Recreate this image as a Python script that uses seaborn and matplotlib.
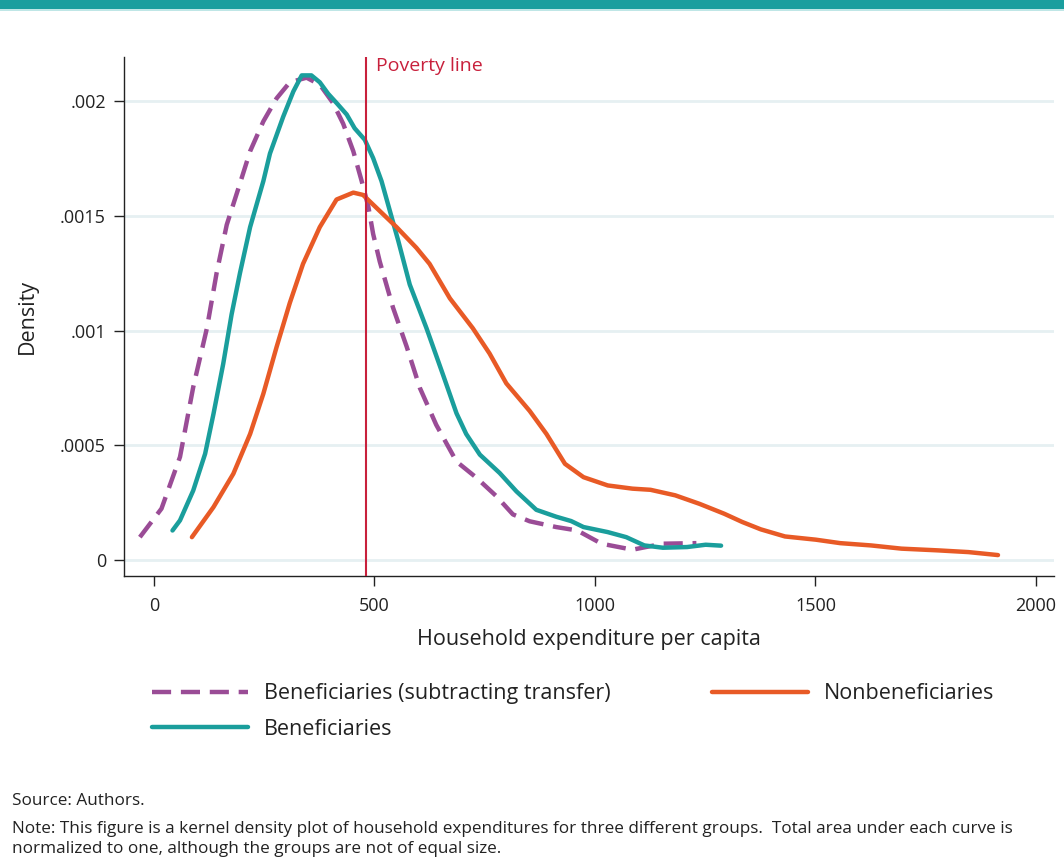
import matplotlib
matplotlib.use("Agg")
import matplotlib.pyplot as plt
import seaborn as sns
import pandas as pd
from matplotlib.patches import Rectangle

# ---- data ----
sub_x = [-32, 17, 59, 89, 120, 142, 165, 195, 218, 248, 278, 308, 346, 376, 406, 429, 452, 471,
         486, 497, 512, 542, 573, 603, 640, 686, 731, 776, 814, 852, 912, 960, 1015, 1085, 1154, 1230]
sub_y = [0.000101, 0.000225, 0.00045, 0.000754, 0.00101, 0.00125, 0.00146, 0.00164, 0.00178,
         0.00191, 0.00201, 0.00208, 0.0021, 0.00207, 0.00199, 0.0019, 0.00178, 0.00165,
         0.00154, 0.00142, 0.0013, 0.0011, 0.00093, 0.00075, 0.00059, 0.00043, 0.00036,
         0.00028, 0.0002, 0.00017, 0.000145, 0.00013, 0.0000725, 0.0000464, 0.0000725, 0.000075]

ben_x = [42, 59, 89, 116, 135, 157, 176, 195, 218, 233, 248, 263, 293, 316, 335, 357, 376, 395,
         414, 437, 455, 478, 497, 516, 535, 554, 580, 618, 655, 686, 708, 739, 784, 822, 867,
         912, 946, 974, 1029, 1071, 1112, 1154, 1209, 1251, 1286]
ben_y = [0.00013, 0.000174, 0.000304, 0.000464, 0.000638, 0.000855, 0.00107, 0.00125, 0.00145,
         0.00155, 0.00165, 0.00177, 0.00193, 0.00204, 0.00211, 0.00211, 0.00208, 0.00203,
         0.00199, 0.00194, 0.00188, 0.00183, 0.00175, 0.00165, 0.00152, 0.00139, 0.0012,
         0.00101, 0.00081, 0.00064, 0.00055, 0.00046, 0.00038, 0.0003, 0.00022,
         0.00019, 0.000171, 0.000145, 0.000123, 0.000101, 0.000065, 0.000055, 0.000058,
         0.000068, 0.000064]

non_x = [86, 135, 180, 218, 248, 278, 308, 338, 376, 414, 452, 474, 512, 550, 595, 625, 671, 723,
         761, 799, 852, 890, 932, 974, 1029, 1085, 1126, 1182, 1237, 1293, 1334, 1376, 1431,
         1501, 1556, 1626, 1695, 1778, 1847, 1914]
non_y = [0.000101, 0.000232, 0.000377, 0.00055, 0.000725, 0.000928, 0.00112, 0.00129, 0.00145,
         0.00157, 0.0016, 0.00159, 0.00152, 0.00145, 0.00136, 0.00129, 0.00114, 0.00101,
         0.0009, 0.00077, 0.00065, 0.00055, 0.00042, 0.000362, 0.000326, 0.000312, 0.000307,
         0.000283, 0.000246, 0.000203, 0.000167, 0.000135, 0.000104, 0.00009, 0.000075,
         0.000065, 0.000051, 0.0000435, 0.000036, 0.000023]

poverty_line = 481
x_ticks = [0, 500, 1000, 1500, 2000]
y_ticks = [0, 0.0005, 0.001, 0.0015, 0.002]
y_ticklabels = ["0", ".0005", ".001", ".0015", ".002"]

series_names = ["Beneficiaries (subtracting transfer)", "Beneficiaries", "Nonbeneficiaries"]
colors = ["#9a4c96", "#1a9e9c", "#e85a26"]

# ---- figure ----
sns.set_theme(style="white")
plt.rcParams["font.family"] = ["Open Sans", "DejaVu Sans"]

fig = plt.figure(figsize=(10.64, 8.68), dpi=100)
ax = fig.add_axes([124 / 1064, 1 - 576 / 868, (1054 - 124) / 1064, (576 - 57) / 868])

dfs = [pd.DataFrame({"x": sub_x, "y": sub_y}),
       pd.DataFrame({"x": ben_x, "y": ben_y}),
       pd.DataFrame({"x": non_x, "y": non_y})]

for y in y_ticks:
    ax.axhline(y, color="#e6f0f2", lw=2, zorder=0)

for df, name, col in zip(dfs, series_names, colors):
    sns.lineplot(data=df, x="x", y="y", ax=ax, color=col, lw=3.2, label=name,
                 estimator=None, sort=False)
for ln in ax.lines[-3:]:
    ln.set_solid_capstyle("round")
    ln.set_solid_joinstyle("round")
ax.lines[-3].set_dashes([4.3, 2.2])
ax.lines[-3].set_dash_capstyle("butt")

ax.axvline(poverty_line, color="#c8203c", lw=1.5, zorder=3)
ax.text(poverty_line + 22, 0.00215, "Poverty line", color="#c8203c", fontsize=14,
        ha="left", va="center")

ax.set_xlim(-68, 2041)
ax.set_ylim(-0.000068, 0.00219)
ax.set_xticks(x_ticks)
ax.set_xticklabels([str(t) for t in x_ticks])
ax.set_yticks(y_ticks)
ax.set_yticklabels(y_ticklabels)
ax.tick_params(axis="both", which="both", direction="out", length=7, width=1, color="#222222",
               labelsize=13, labelcolor="#222222", bottom=True, left=True, pad=6)
ax.tick_params(axis="x", pad=8)
for s in ["top", "right"]:
    ax.spines[s].set_visible(False)
for s in ["left", "bottom"]:
    ax.spines[s].set_color("#222222")
    ax.spines[s].set_linewidth(1.0)

ax.set_xlabel("Household expenditure per capita", fontsize=15.5, color="#222222", labelpad=10)
ax.set_ylabel("Density", fontsize=15.5, color="#222222", labelpad=16)

handles, labels = ax.get_legend_handles_labels()
ax.get_legend().remove()
fig.legend(handles, labels, loc="upper left", bbox_to_anchor=(133 / 1064, 1 - 664 / 868), ncol=2,
           frameon=False, fontsize=15.5, handlelength=4.45, handletextpad=0.75,
           columnspacing=4.7, labelspacing=0.67, labelcolor="#222222")

# top band
fig.add_artist(Rectangle((0, 1 - 9 / 868), 1, 9 / 868, transform=fig.transFigure,
                         color="#1a9e9e", lw=0))
fig.add_artist(Rectangle((0, 1 - 11 / 868), 1, 2 / 868, transform=fig.transFigure,
                         color="#bfe6e6", lw=0))

fig.text(12 / 1064, 1 - 801 / 868, "Source: Authors.", fontsize=12.3, color="#222222",
         va="center", ha="left")
fig.text(12 / 1064, 1 - 829 / 868,
         "Note: This figure is a kernel density plot of household expenditures for three different groups.  "
         "Total area under each curve is",
         fontsize=12.3, color="#222222", va="center", ha="left")
fig.text(12 / 1064, 1 - 849 / 868, "normalized to one, although the groups are not of equal size.",
         fontsize=12.3, color="#222222", va="center", ha="left")

fig.savefig("out.png", dpi=100)
